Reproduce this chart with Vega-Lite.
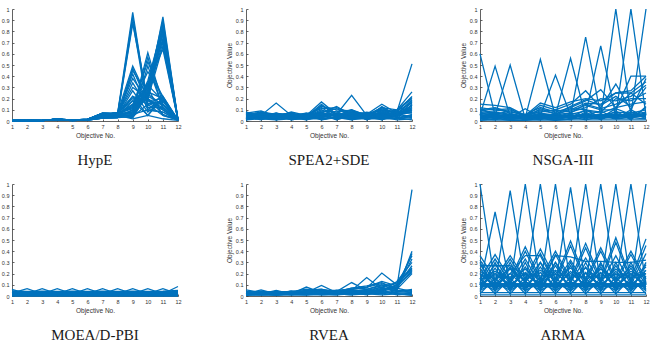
{
  "$schema": "https://vega.github.io/schema/vega-lite/v6.json",
  "background": "white",
  "padding": {"left": 1, "top": 6, "right": 0, "bottom": 0},
  "columns": 3,
  "spacing": {"row": 63, "column": 68},
  "bounds": "flush",
  "config": {
    "view": {"stroke": null},
    "axis": {
      "grid": false,
      "domainColor": "#3a3a3a",
      "domainWidth": 0.8,
      "tickColor": "#3a3a3a",
      "tickWidth": 0.8,
      "tickSize": -2,
      "labelPadding": 5,
      "labelFont": "Liberation Sans",
      "labelFontSize": 5.5,
      "labelColor": "#333333",
      "titleFont": "Liberation Sans",
      "titleFontSize": 6.5,
      "titleFontWeight": "normal",
      "titleColor": "#333333",
      "titlePadding": 3
    },
    "title": {
      "font": "Liberation Serif",
      "fontSize": 15,
      "fontWeight": "normal",
      "color": "#1a1a1a",
      "orient": "bottom",
      "anchor": "middle",
      "offset": 14
    },
    "line": {"color": "#0072BD", "strokeWidth": 1.3}
  },
  "datasets": {
    "hype": [
      {"s":1,"1":0.004,"2":0.005,"3":0.006,"4":0.016,"5":0.006,"6":0.012,"7":0.06,"8":0.07,"9":0.97,"10":0.12,"11":0.15,"12":0.01},
      {"s":2,"1":0.003,"2":0.004,"3":0.005,"4":0.013,"5":0.005,"6":0.01,"7":0.05,"8":0.06,"9":0.93,"10":0.15,"11":0.18,"12":0.005},
      {"s":3,"1":0.005,"2":0.006,"3":0.004,"4":0.018,"5":0.007,"6":0.014,"7":0.07,"8":0.065,"9":0.89,"10":0.1,"11":0.2,"12":0.01},
      {"s":4,"1":0.002,"2":0.003,"3":0.006,"4":0.012,"5":0.004,"6":0.011,"7":0.04,"8":0.05,"9":0.87,"10":0.18,"11":0.12,"12":0.008},
      {"s":5,"1":0.006,"2":0.004,"3":0.003,"4":0.015,"5":0.008,"6":0.016,"7":0.055,"8":0.075,"9":0.49,"10":0.2,"11":0.1,"12":0.01},
      {"s":6,"1":0.004,"2":0.006,"3":0.005,"4":0.01,"5":0.005,"6":0.013,"7":0.03,"8":0.04,"9":0.47,"10":0.15,"11":0.22,"12":0.005},
      {"s":7,"1":0.003,"2":0.005,"3":0.004,"4":0.014,"5":0.006,"6":0.009,"7":0.025,"8":0.03,"9":0.45,"10":0.22,"11":0.15,"12":0.012},
      {"s":8,"1":0.005,"2":0.003,"3":0.006,"4":0.017,"5":0.005,"6":0.015,"7":0.065,"8":0.055,"9":0.42,"10":0.1,"11":0.08,"12":0.006},
      {"s":9,"1":0.004,"2":0.005,"3":0.006,"4":0.016,"5":0.006,"6":0.012,"7":0.06,"8":0.07,"9":0.38,"10":0.18,"11":0.2,"12":0.01},
      {"s":10,"1":0.003,"2":0.004,"3":0.005,"4":0.013,"5":0.005,"6":0.01,"7":0.05,"8":0.06,"9":0.34,"10":0.12,"11":0.12,"12":0.004},
      {"s":11,"1":0.005,"2":0.006,"3":0.004,"4":0.018,"5":0.007,"6":0.014,"7":0.07,"8":0.065,"9":0.3,"10":0.2,"11":0.06,"12":0.01},
      {"s":12,"1":0.002,"2":0.003,"3":0.006,"4":0.012,"5":0.004,"6":0.011,"7":0.04,"8":0.05,"9":0.27,"10":0.08,"11":0.18,"12":0.007},
      {"s":13,"1":0.006,"2":0.004,"3":0.003,"4":0.015,"5":0.008,"6":0.016,"7":0.055,"8":0.075,"9":0.22,"10":0.16,"11":0.1,"12":0.01},
      {"s":14,"1":0.004,"2":0.006,"3":0.005,"4":0.01,"5":0.005,"6":0.013,"7":0.03,"8":0.04,"9":0.18,"10":0.05,"11":0.21,"12":0.005},
      {"s":15,"1":0.003,"2":0.005,"3":0.004,"4":0.014,"5":0.006,"6":0.009,"7":0.025,"8":0.03,"9":0.1,"10":0.61,"11":0.15,"12":0.01},
      {"s":16,"1":0.005,"2":0.003,"3":0.006,"4":0.017,"5":0.005,"6":0.015,"7":0.065,"8":0.055,"9":0.08,"10":0.57,"11":0.1,"12":0.006},
      {"s":17,"1":0.004,"2":0.005,"3":0.006,"4":0.016,"5":0.006,"6":0.012,"7":0.06,"8":0.07,"9":0.12,"10":0.53,"11":0.2,"12":0.01},
      {"s":18,"1":0.003,"2":0.004,"3":0.005,"4":0.013,"5":0.005,"6":0.01,"7":0.05,"8":0.06,"9":0.05,"10":0.49,"11":0.12,"12":0.008},
      {"s":19,"1":0.005,"2":0.006,"3":0.004,"4":0.018,"5":0.007,"6":0.014,"7":0.07,"8":0.065,"9":0.15,"10":0.44,"11":0.22,"12":0.01},
      {"s":20,"1":0.002,"2":0.003,"3":0.006,"4":0.012,"5":0.004,"6":0.011,"7":0.04,"8":0.05,"9":0.07,"10":0.32,"11":0.18,"12":0.005},
      {"s":21,"1":0.006,"2":0.004,"3":0.003,"4":0.015,"5":0.008,"6":0.016,"7":0.055,"8":0.075,"9":0.18,"10":0.29,"11":0.05,"12":0.01},
      {"s":22,"1":0.004,"2":0.006,"3":0.005,"4":0.01,"5":0.005,"6":0.013,"7":0.03,"8":0.04,"9":0.03,"10":0.26,"11":0.2,"12":0.006},
      {"s":23,"1":0.003,"2":0.005,"3":0.004,"4":0.014,"5":0.006,"6":0.009,"7":0.025,"8":0.03,"9":0.1,"10":0.25,"11":0.93,"12":0.01},
      {"s":24,"1":0.005,"2":0.003,"3":0.006,"4":0.017,"5":0.005,"6":0.015,"7":0.065,"8":0.055,"9":0.05,"10":0.3,"11":0.9,"12":0.008},
      {"s":25,"1":0.004,"2":0.005,"3":0.006,"4":0.016,"5":0.006,"6":0.012,"7":0.06,"8":0.07,"9":0.12,"10":0.2,"11":0.87,"12":0.012},
      {"s":26,"1":0.003,"2":0.004,"3":0.005,"4":0.013,"5":0.005,"6":0.01,"7":0.05,"8":0.06,"9":0.08,"10":0.36,"11":0.85,"12":0.006},
      {"s":27,"1":0.005,"2":0.006,"3":0.004,"4":0.018,"5":0.007,"6":0.014,"7":0.07,"8":0.065,"9":0.15,"10":0.22,"11":0.83,"12":0.01},
      {"s":28,"1":0.002,"2":0.003,"3":0.006,"4":0.012,"5":0.004,"6":0.011,"7":0.04,"8":0.05,"9":0.04,"10":0.28,"11":0.81,"12":0.005},
      {"s":29,"1":0.006,"2":0.004,"3":0.003,"4":0.015,"5":0.008,"6":0.016,"7":0.055,"8":0.075,"9":0.2,"10":0.18,"11":0.79,"12":0.01},
      {"s":30,"1":0.004,"2":0.006,"3":0.005,"4":0.01,"5":0.005,"6":0.013,"7":0.03,"8":0.04,"9":0.06,"10":0.33,"11":0.77,"12":0.007},
      {"s":31,"1":0.003,"2":0.005,"3":0.004,"4":0.014,"5":0.006,"6":0.009,"7":0.025,"8":0.03,"9":0.1,"10":0.26,"11":0.74,"12":0.01},
      {"s":32,"1":0.005,"2":0.003,"3":0.006,"4":0.017,"5":0.005,"6":0.015,"7":0.065,"8":0.055,"9":0.14,"10":0.31,"11":0.72,"12":0.006},
      {"s":33,"1":0.004,"2":0.005,"3":0.006,"4":0.016,"5":0.006,"6":0.012,"7":0.06,"8":0.07,"9":0.03,"10":0.24,"11":0.7,"12":0.01},
      {"s":34,"1":0.003,"2":0.004,"3":0.005,"4":0.013,"5":0.005,"6":0.01,"7":0.05,"8":0.06,"9":0.09,"10":0.2,"11":0.67,"12":0.008},
      {"s":35,"1":0.005,"2":0.006,"3":0.004,"4":0.018,"5":0.007,"6":0.014,"7":0.07,"8":0.065,"9":0.11,"10":0.34,"11":0.64,"12":0.01},
      {"s":36,"1":0.002,"2":0.003,"3":0.006,"4":0.012,"5":0.004,"6":0.011,"7":0.04,"8":0.05,"9":0.02,"10":0.05,"11":0.02,"12":0.005},
      {"s":37,"1":0.006,"2":0.004,"3":0.003,"4":0.015,"5":0.008,"6":0.016,"7":0.055,"8":0.075,"9":0.06,"10":0.1,"11":0.08,"12":0.01},
      {"s":38,"1":0.004,"2":0.006,"3":0.005,"4":0.01,"5":0.005,"6":0.013,"7":0.03,"8":0.04,"9":0.22,"10":0.05,"11":0.21,"12":0.006},
      {"s":39,"1":0.003,"2":0.005,"3":0.004,"4":0.014,"5":0.006,"6":0.009,"7":0.025,"8":0.03,"9":0.04,"10":0.15,"11":0.05,"12":0.01},
      {"s":40,"1":0.005,"2":0.003,"3":0.006,"4":0.017,"5":0.005,"6":0.015,"7":0.065,"8":0.055,"9":0.13,"10":0.24,"11":0.14,"12":0.008}
    ],
    "spea": [
      {"s":1,"1":0.08,"2":0.05,"3":0.16,"4":0.05,"5":0.05,"6":0.06,"7":0.05,"8":0.07,"9":0.05,"10":0.06,"11":0.08,"12":0.51},
      {"s":2,"1":0.07,"2":0.09,"3":0.04,"4":0.08,"5":0.05,"6":0.17,"7":0.06,"8":0.05,"9":0.06,"10":0.05,"11":0.07,"12":0.1},
      {"s":3,"1":0.05,"2":0.06,"3":0.05,"4":0.05,"5":0.07,"6":0.07,"7":0.13,"8":0.05,"9":0.08,"10":0.06,"11":0.05,"12":0.08},
      {"s":4,"1":0.06,"2":0.04,"3":0.07,"4":0.05,"5":0.06,"6":0.05,"7":0.06,"8":0.23,"9":0.05,"10":0.07,"11":0.06,"12":0.12},
      {"s":5,"1":0.04,"2":0.07,"3":0.05,"4":0.06,"5":0.05,"6":0.06,"7":0.05,"8":0.06,"9":0.06,"10":0.15,"11":0.07,"12":0.09},
      {"s":6,"1":0.05,"2":0.05,"3":0.06,"4":0.07,"5":0.04,"6":0.15,"7":0.05,"8":0.1,"9":0.05,"10":0.12,"11":0.1,"12":0.26},
      {"s":7,"1":0.07,"2":0.03,"3":0.07,"4":0.04,"5":0.05,"6":0.13,"7":0.1,"8":0.09,"9":0.06,"10":0.1,"11":0.08,"12":0.22},
      {"s":8,"1":0.06,"2":0.08,"3":0.05,"4":0.05,"5":0.06,"6":0.11,"7":0.12,"8":0.07,"9":0.07,"10":0.09,"11":0.09,"12":0.2},
      {"s":9,"1":0.03,"2":0.08,"3":0.02,"4":0.06,"5":0.03,"6":0.09,"7":0.08,"8":0.1,"9":0.04,"10":0.11,"11":0.06,"12":0.18},
      {"s":10,"1":0.02,"2":0.03,"3":0.06,"4":0.03,"5":0.05,"6":0.07,"7":0.04,"8":0.09,"9":0.03,"10":0.08,"11":0.09,"12":0.16},
      {"s":11,"1":0.05,"2":0.02,"3":0.04,"4":0.02,"5":0.04,"6":0.12,"7":0.03,"8":0.08,"9":0.05,"10":0.07,"11":0.05,"12":0.14},
      {"s":12,"1":0.01,"2":0.05,"3":0.03,"4":0.05,"5":0.02,"6":0.04,"7":0.06,"8":0.05,"9":0.02,"10":0.05,"11":0.08,"12":0.13},
      {"s":13,"1":0.04,"2":0.06,"3":0.01,"4":0.04,"5":0.06,"6":0.03,"7":0.07,"8":0.04,"9":0.06,"10":0.04,"11":0.04,"12":0.11},
      {"s":14,"1":0.03,"2":0.04,"3":0.05,"4":0.01,"5":0.03,"6":0.06,"7":0.02,"8":0.06,"9":0.04,"10":0.03,"11":0.07,"12":0.07},
      {"s":15,"1":0.02,"2":0.07,"3":0.03,"4":0.03,"5":0.01,"6":0.05,"7":0.05,"8":0.03,"9":0.05,"10":0.06,"11":0.03,"12":0.05},
      {"s":16,"1":0.06,"2":0.02,"3":0.02,"4":0.07,"5":0.04,"6":0.02,"7":0.04,"8":0.02,"9":0.03,"10":0.02,"11":0.06,"12":0.04},
      {"s":17,"1":0.01,"2":0.04,"3":0.04,"4":0.02,"5":0.02,"6":0.08,"7":0.01,"8":0.07,"9":0.01,"10":0.05,"11":0.02,"12":0.15},
      {"s":18,"1":0.04,"2":0.01,"3":0.06,"4":0.04,"5":0.05,"6":0.01,"7":0.03,"8":0.01,"9":0.07,"10":0.01,"11":0.05,"12":0.03},
      {"s":19,"1":0.02,"2":0.05,"3":0.02,"4":0.06,"5":0.01,"6":0.04,"7":0.06,"8":0.04,"9":0.02,"10":0.04,"11":0.01,"12":0.02},
      {"s":20,"1":0.05,"2":0.03,"3":0.05,"4":0.01,"5":0.03,"6":0.03,"7":0.02,"8":0.03,"9":0.04,"10":0.03,"11":0.04,"12":0.17},
      {"s":21,"1":0.03,"2":0.06,"3":0.03,"4":0.03,"5":0.04,"6":0.1,"7":0.04,"8":0.06,"9":0.03,"10":0.09,"11":0.03,"12":0.01},
      {"s":22,"1":0.01,"2":0.02,"3":0.01,"4":0.02,"5":0.02,"6":0.02,"7":0.03,"8":0.02,"9":0.02,"10":0.02,"11":0.02,"12":0.06},
      {"s":23,"1":0.07,"2":0.04,"3":0.04,"4":0.05,"5":0.03,"6":0.08,"7":0.11,"8":0.05,"9":0.05,"10":0.12,"11":0.06,"12":0.19},
      {"s":24,"1":0.02,"2":0.08,"3":0.06,"4":0.02,"5":0.06,"6":0.05,"7":0.02,"8":0.08,"9":0.01,"10":0.06,"11":0.1,"12":0.21},
      {"s":25,"1":0.06,"2":0.03,"3":0.02,"4":0.06,"5":0.02,"6":0.14,"7":0.05,"8":0.04,"9":0.06,"10":0.1,"11":0.04,"12":0.12},
      {"s":26,"1":0.04,"2":0.05,"3":0.07,"4":0.03,"5":0.05,"6":0.03,"7":0.07,"8":0.02,"9":0.04,"10":0.01,"11":0.07,"12":0.08},
      {"s":27,"1":0.03,"2":0.02,"3":0.03,"4":0.07,"5":0.04,"6":0.06,"7":0.01,"8":0.05,"9":0.02,"10":0.13,"11":0.05,"12":0.1},
      {"s":28,"1":0.05,"2":0.07,"3":0.01,"4":0.04,"5":0.07,"6":0.01,"7":0.04,"8":0.03,"9":0.07,"10":0.05,"11":0.02,"12":0.04},
      {"s":29,"1":0.02,"2":0.06,"3":0.05,"4":0.02,"5":0.03,"6":0.04,"7":0.09,"8":0.01,"9":0.03,"10":0.04,"11":0.08,"12":0.09},
      {"s":30,"1":0.08,"2":0.04,"3":0.03,"4":0.05,"5":0.02,"6":0.07,"7":0.06,"8":0.07,"9":0.05,"10":0.08,"11":0.04,"12":0.14}
    ],
    "nsga": [
      {"s":1,"1":0.6,"2":0.05,"3":0.03,"4":0.02,"5":0.03,"6":0.04,"7":0.03,"8":0.05,"9":0.04,"10":0.05,"11":0.04,"12":0.06},
      {"s":2,"1":0.05,"2":0.49,"3":0.04,"4":0.03,"5":0.05,"6":0.03,"7":0.05,"8":0.04,"9":0.06,"10":0.05,"11":0.04,"12":0.05},
      {"s":3,"1":0.04,"2":0.05,"3":0.5,"4":0.02,"5":0.04,"6":0.05,"7":0.03,"8":0.06,"9":0.04,"10":0.03,"11":0.05,"12":0.04},
      {"s":4,"1":0.03,"2":0.04,"3":0.03,"4":0.11,"5":0.03,"6":0.04,"7":0.05,"8":0.04,"9":0.05,"10":0.04,"11":0.03,"12":0.05},
      {"s":5,"1":0.04,"2":0.03,"3":0.05,"4":0.03,"5":0.55,"6":0.04,"7":0.04,"8":0.05,"9":0.03,"10":0.06,"11":0.05,"12":0.04},
      {"s":6,"1":0.05,"2":0.04,"3":0.04,"4":0.04,"5":0.05,"6":0.41,"7":0.05,"8":0.03,"9":0.05,"10":0.04,"11":0.06,"12":0.05},
      {"s":7,"1":0.03,"2":0.05,"3":0.03,"4":0.05,"5":0.04,"6":0.05,"7":0.56,"8":0.04,"9":0.04,"10":0.05,"11":0.04,"12":0.06},
      {"s":8,"1":0.04,"2":0.03,"3":0.05,"4":0.03,"5":0.04,"6":0.03,"7":0.05,"8":0.75,"9":0.05,"10":0.04,"11":0.05,"12":0.04},
      {"s":9,"1":0.05,"2":0.04,"3":0.03,"4":0.04,"5":0.05,"6":0.04,"7":0.03,"8":0.06,"9":0.67,"10":0.05,"11":0.04,"12":0.05},
      {"s":10,"1":0.03,"2":0.05,"3":0.04,"4":0.03,"5":0.03,"6":0.05,"7":0.04,"8":0.05,"9":0.04,"10":1.0,"11":0.05,"12":0.04},
      {"s":11,"1":0.04,"2":0.03,"3":0.05,"4":0.04,"5":0.04,"6":0.03,"7":0.05,"8":0.04,"9":0.06,"10":0.05,"11":1.0,"12":0.05},
      {"s":12,"1":0.05,"2":0.04,"3":0.03,"4":0.05,"5":0.05,"6":0.04,"7":0.04,"8":0.05,"9":0.05,"10":0.04,"11":0.06,"12":1.0},
      {"s":13,"1":0.15,"2":0.14,"3":0.12,"4":0.05,"5":0.16,"6":0.12,"7":0.17,"8":0.2,"9":0.18,"10":0.25,"11":0.27,"12":0.4},
      {"s":14,"1":0.12,"2":0.1,"3":0.11,"4":0.04,"5":0.14,"6":0.1,"7":0.15,"8":0.27,"9":0.12,"10":0.33,"11":0.1,"12":0.38},
      {"s":15,"1":0.1,"2":0.12,"3":0.08,"4":0.06,"5":0.12,"6":0.08,"7":0.12,"8":0.18,"9":0.28,"10":0.12,"11":0.25,"12":0.35},
      {"s":16,"1":0.08,"2":0.09,"3":0.1,"4":0.05,"5":0.1,"6":0.09,"7":0.1,"8":0.16,"9":0.15,"10":0.25,"11":0.25,"12":0.15},
      {"s":17,"1":0.11,"2":0.06,"3":0.09,"4":0.04,"5":0.09,"6":0.07,"7":0.09,"8":0.14,"9":0.1,"10":0.1,"11":0.4,"12":0.4},
      {"s":18,"1":0.09,"2":0.11,"3":0.07,"4":0.03,"5":0.11,"6":0.06,"7":0.13,"8":0.19,"9":0.14,"10":0.22,"11":0.13,"12":0.3},
      {"s":19,"1":0.07,"2":0.08,"3":0.06,"4":0.05,"5":0.08,"6":0.1,"7":0.08,"8":0.12,"9":0.2,"10":0.18,"11":0.22,"12":0.32},
      {"s":20,"1":0.06,"2":0.07,"3":0.05,"4":0.04,"5":0.07,"6":0.05,"7":0.11,"8":0.1,"9":0.08,"10":0.2,"11":0.18,"12":0.25},
      {"s":21,"1":0.05,"2":0.06,"3":0.04,"4":0.03,"5":0.06,"6":0.06,"7":0.07,"8":0.15,"9":0.11,"10":0.15,"11":0.2,"12":0.2},
      {"s":22,"1":0.04,"2":0.05,"3":0.06,"4":0.04,"5":0.05,"6":0.04,"7":0.06,"8":0.09,"9":0.07,"10":0.12,"11":0.15,"12":0.17},
      {"s":23,"1":0.03,"2":0.04,"3":0.03,"4":0.02,"5":0.04,"6":0.03,"7":0.04,"8":0.06,"9":0.05,"10":0.08,"11":0.07,"12":0.1},
      {"s":24,"1":0.02,"2":0.03,"3":0.02,"4":0.03,"5":0.03,"6":0.02,"7":0.05,"8":0.04,"9":0.03,"10":0.06,"11":0.05,"12":0.07},
      {"s":25,"1":0.01,"2":0.02,"3":0.01,"4":0.01,"5":0.02,"6":0.01,"7":0.02,"8":0.03,"9":0.02,"10":0.04,"11":0.03,"12":0.05},
      {"s":26,"1":0.06,"2":0.02,"3":0.04,"4":0.02,"5":0.06,"6":0.02,"7":0.06,"8":0.02,"9":0.06,"10":0.03,"11":0.08,"12":0.02},
      {"s":27,"1":0.02,"2":0.06,"3":0.02,"4":0.04,"5":0.02,"6":0.06,"7":0.02,"8":0.07,"9":0.02,"10":0.07,"11":0.02,"12":0.12},
      {"s":28,"1":0.08,"2":0.03,"3":0.06,"4":0.01,"5":0.07,"6":0.04,"7":0.07,"8":0.05,"9":0.09,"10":0.02,"11":0.1,"12":0.03},
      {"s":29,"1":0.005,"2":0.01,"3":0.005,"4":0.005,"5":0.01,"6":0.005,"7":0.01,"8":0.01,"9":0.01,"10":0.01,"11":0.01,"12":0.01},
      {"s":30,"1":0.04,"2":0.07,"3":0.01,"4":0.03,"5":0.01,"6":0.07,"7":0.03,"8":0.1,"9":0.03,"10":0.11,"11":0.06,"12":0.08},
      {"s":31,"1":0.03,"2":0.01,"3":0.05,"4":0.01,"5":0.03,"6":0.01,"7":0.04,"8":0.01,"9":0.04,"10":0.02,"11":0.03,"12":0.02},
      {"s":32,"1":0.07,"2":0.05,"3":0.02,"4":0.02,"5":0.05,"6":0.03,"7":0.01,"8":0.08,"9":0.01,"10":0.09,"11":0.01,"12":0.13}
    ],
    "moead": [
      {"s":1,"1":0.06,"2":0.02,"3":0.065,"4":0.02,"5":0.065,"6":0.02,"7":0.065,"8":0.02,"9":0.065,"10":0.02,"11":0.065,"12":0.02},
      {"s":2,"1":0.025,"2":0.065,"3":0.02,"4":0.065,"5":0.02,"6":0.065,"7":0.02,"8":0.065,"9":0.02,"10":0.065,"11":0.02,"12":0.085},
      {"s":3,"1":0.045,"2":0.04,"3":0.043,"4":0.04,"5":0.043,"6":0.04,"7":0.043,"8":0.04,"9":0.043,"10":0.04,"11":0.043,"12":0.05},
      {"s":4,"1":0.04,"2":0.035,"3":0.038,"4":0.035,"5":0.038,"6":0.035,"7":0.038,"8":0.035,"9":0.038,"10":0.035,"11":0.038,"12":0.04},
      {"s":5,"1":0.035,"2":0.03,"3":0.034,"4":0.03,"5":0.034,"6":0.03,"7":0.034,"8":0.03,"9":0.034,"10":0.03,"11":0.034,"12":0.036},
      {"s":6,"1":0.03,"2":0.026,"3":0.03,"4":0.026,"5":0.03,"6":0.026,"7":0.03,"8":0.026,"9":0.03,"10":0.026,"11":0.03,"12":0.03},
      {"s":7,"1":0.01,"2":0.03,"3":0.01,"4":0.03,"5":0.01,"6":0.03,"7":0.01,"8":0.03,"9":0.01,"10":0.03,"11":0.01,"12":0.03},
      {"s":8,"1":0.03,"2":0.01,"3":0.03,"4":0.01,"5":0.03,"6":0.01,"7":0.03,"8":0.01,"9":0.03,"10":0.01,"11":0.03,"12":0.01},
      {"s":9,"1":0.016,"2":0.014,"3":0.016,"4":0.014,"5":0.016,"6":0.014,"7":0.016,"8":0.014,"9":0.016,"10":0.014,"11":0.016,"12":0.015},
      {"s":10,"1":0.008,"2":0.008,"3":0.008,"4":0.008,"5":0.008,"6":0.008,"7":0.008,"8":0.008,"9":0.008,"10":0.008,"11":0.008,"12":0.008},
      {"s":11,"1":0.003,"2":0.004,"3":0.003,"4":0.004,"5":0.003,"6":0.004,"7":0.003,"8":0.004,"9":0.003,"10":0.004,"11":0.003,"12":0.004},
      {"s":12,"1":0.024,"2":0.012,"3":0.024,"4":0.012,"5":0.024,"6":0.012,"7":0.024,"8":0.012,"9":0.024,"10":0.012,"11":0.024,"12":0.012},
      {"s":13,"1":0.012,"2":0.024,"3":0.012,"4":0.024,"5":0.012,"6":0.024,"7":0.012,"8":0.024,"9":0.012,"10":0.024,"11":0.012,"12":0.024},
      {"s":14,"1":0.0,"2":0.0,"3":0.0,"4":0.0,"5":0.0,"6":0.0,"7":0.0,"8":0.0,"9":0.0,"10":0.0,"11":0.0,"12":0.0}
    ],
    "rvea": [
      {"s":1,"1":0.055,"2":0.03,"3":0.03,"4":0.02,"5":0.03,"6":0.03,"7":0.02,"8":0.03,"9":0.05,"10":0.04,"11":0.08,"12":0.95},
      {"s":2,"1":0.02,"2":0.055,"3":0.02,"4":0.03,"5":0.02,"6":0.02,"7":0.03,"8":0.02,"9":0.03,"10":0.02,"11":0.05,"12":0.4},
      {"s":3,"1":0.03,"2":0.02,"3":0.05,"4":0.02,"5":0.03,"6":0.03,"7":0.02,"8":0.03,"9":0.02,"10":0.03,"11":0.06,"12":0.38},
      {"s":4,"1":0.02,"2":0.03,"3":0.02,"4":0.045,"5":0.02,"6":0.02,"7":0.03,"8":0.02,"9":0.04,"10":0.05,"11":0.1,"12":0.36},
      {"s":5,"1":0.03,"2":0.02,"3":0.03,"4":0.02,"5":0.08,"6":0.03,"7":0.02,"8":0.04,"9":0.03,"10":0.06,"11":0.07,"12":0.33},
      {"s":6,"1":0.02,"2":0.03,"3":0.02,"4":0.03,"5":0.03,"6":0.095,"7":0.03,"8":0.03,"9":0.05,"10":0.04,"11":0.13,"12":0.3},
      {"s":7,"1":0.04,"2":0.02,"3":0.03,"4":0.02,"5":0.02,"6":0.03,"7":0.05,"8":0.03,"9":0.04,"10":0.06,"11":0.09,"12":0.27},
      {"s":8,"1":0.03,"2":0.04,"3":0.03,"4":0.03,"5":0.04,"6":0.04,"7":0.04,"8":0.12,"9":0.05,"10":0.08,"11":0.12,"12":0.25},
      {"s":9,"1":0.02,"2":0.03,"3":0.04,"4":0.03,"5":0.03,"6":0.05,"7":0.04,"8":0.05,"9":0.165,"10":0.06,"11":0.08,"12":0.23},
      {"s":10,"1":0.03,"2":0.02,"3":0.02,"4":0.03,"5":0.05,"6":0.06,"7":0.03,"8":0.06,"9":0.07,"10":0.205,"11":0.1,"12":0.21},
      {"s":11,"1":0.04,"2":0.03,"3":0.03,"4":0.04,"5":0.06,"6":0.04,"7":0.04,"8":0.07,"9":0.09,"10":0.12,"11":0.06,"12":0.2},
      {"s":12,"1":0.01,"2":0.02,"3":0.01,"4":0.02,"5":0.02,"6":0.03,"7":0.02,"8":0.04,"9":0.06,"10":0.1,"11":0.05,"12":0.05},
      {"s":13,"1":0.02,"2":0.01,"3":0.02,"4":0.01,"5":0.01,"6":0.02,"7":0.03,"8":0.05,"9":0.04,"10":0.08,"11":0.04,"12":0.03},
      {"s":14,"1":0.03,"2":0.03,"3":0.04,"4":0.03,"5":0.04,"6":0.05,"7":0.05,"8":0.06,"9":0.08,"10":0.11,"11":0.07,"12":0.04},
      {"s":15,"1":0.01,"2":0.03,"3":0.02,"4":0.03,"5":0.03,"6":0.04,"7":0.03,"8":0.03,"9":0.03,"10":0.03,"11":0.03,"12":0.02},
      {"s":16,"1":0.02,"2":0.02,"3":0.03,"4":0.01,"5":0.03,"6":0.01,"7":0.01,"8":0.02,"9":0.02,"10":0.05,"11":0.02,"12":0.01},
      {"s":17,"1":0.03,"2":0.04,"3":0.02,"4":0.02,"5":0.01,"6":0.03,"7":0.02,"8":0.01,"9":0.05,"10":0.02,"11":0.04,"12":0.06},
      {"s":18,"1":0.01,"2":0.01,"3":0.01,"4":0.02,"5":0.02,"6":0.02,"7":0.01,"8":0.03,"9":0.01,"10":0.04,"11":0.01,"12":0.02},
      {"s":19,"1":0.04,"2":0.02,"3":0.04,"4":0.03,"5":0.05,"6":0.06,"7":0.04,"8":0.07,"9":0.08,"10":0.13,"11":0.09,"12":0.22},
      {"s":20,"1":0.02,"2":0.04,"3":0.03,"4":0.02,"5":0.03,"6":0.04,"7":0.03,"8":0.04,"9":0.06,"10":0.09,"11":0.11,"12":0.24},
      {"s":21,"1":0.005,"2":0.01,"3":0.005,"4":0.01,"5":0.01,"6":0.01,"7":0.02,"8":0.01,"9":0.02,"10":0.01,"11":0.02,"12":0.005},
      {"s":22,"1":0.03,"2":0.02,"3":0.03,"4":0.04,"5":0.04,"6":0.03,"7":0.05,"8":0.05,"9":0.03,"10":0.07,"11":0.05,"12":0.035}
    ],
    "arma": [
      {"s":1,"1":1.0,"2":0.1,"3":0.08,"4":0.12,"5":0.1,"6":0.08,"7":0.1,"8":0.12,"9":0.08,"10":0.1,"11":0.12,"12":0.1},
      {"s":2,"1":0.1,"2":0.75,"3":0.1,"4":0.08,"5":0.12,"6":0.1,"7":0.08,"8":0.1,"9":0.12,"10":0.08,"11":0.1,"12":0.12},
      {"s":3,"1":0.08,"2":0.1,"3":0.94,"4":0.1,"5":0.08,"6":0.12,"7":0.1,"8":0.08,"9":0.1,"10":0.12,"11":0.08,"12":0.1},
      {"s":4,"1":0.12,"2":0.08,"3":0.1,"4":1.0,"5":0.1,"6":0.08,"7":0.12,"8":0.1,"9":0.08,"10":0.1,"11":0.12,"12":0.08},
      {"s":5,"1":0.1,"2":0.12,"3":0.08,"4":0.1,"5":1.0,"6":0.1,"7":0.08,"8":0.12,"9":0.1,"10":0.08,"11":0.1,"12":0.12},
      {"s":6,"1":0.08,"2":0.1,"3":0.12,"4":0.08,"5":0.1,"6":1.0,"7":0.1,"8":0.08,"9":0.12,"10":0.1,"11":0.08,"12":0.1},
      {"s":7,"1":0.1,"2":0.08,"3":0.1,"4":0.12,"5":0.08,"6":0.1,"7":0.97,"8":0.1,"9":0.08,"10":0.12,"11":0.1,"12":0.08},
      {"s":8,"1":0.12,"2":0.1,"3":0.08,"4":0.1,"5":0.12,"6":0.08,"7":0.1,"8":1.0,"9":0.1,"10":0.08,"11":0.12,"12":0.1},
      {"s":9,"1":0.1,"2":0.12,"3":0.1,"4":0.08,"5":0.1,"6":0.12,"7":0.08,"8":0.1,"9":1.0,"10":0.1,"11":0.08,"12":0.12},
      {"s":10,"1":0.08,"2":0.1,"3":0.12,"4":0.1,"5":0.08,"6":0.1,"7":0.12,"8":0.08,"9":0.1,"10":1.0,"11":0.1,"12":0.08},
      {"s":11,"1":0.1,"2":0.08,"3":0.1,"4":0.12,"5":0.1,"6":0.08,"7":0.1,"8":0.12,"9":0.08,"10":0.1,"11":1.0,"12":0.1},
      {"s":12,"1":0.12,"2":0.1,"3":0.08,"4":0.1,"5":0.12,"6":0.1,"7":0.08,"8":0.1,"9":0.12,"10":0.08,"11":0.1,"12":1.0},
      {"s":13,"1":0.36,"2":0.15,"3":0.36,"4":0.15,"5":0.42,"6":0.15,"7":0.49,"8":0.15,"9":0.43,"10":0.15,"11":0.4,"12":0.15},
      {"s":14,"1":0.15,"2":0.37,"3":0.15,"4":0.44,"5":0.15,"6":0.4,"7":0.15,"8":0.47,"9":0.15,"10":0.52,"11":0.15,"12":0.51},
      {"s":15,"1":0.32,"2":0.12,"3":0.33,"4":0.12,"5":0.38,"6":0.12,"7":0.45,"8":0.12,"9":0.4,"10":0.12,"11":0.37,"12":0.12},
      {"s":16,"1":0.12,"2":0.33,"3":0.12,"4":0.4,"5":0.12,"6":0.37,"7":0.12,"8":0.43,"9":0.12,"10":0.48,"11":0.12,"12":0.45},
      {"s":17,"1":0.27,"2":0.27,"3":0.27,"4":0.18,"5":0.12,"6":0.2,"7":0.1,"8":0.2,"9":0.1,"10":0.2,"11":0.1,"12":0.2},
      {"s":18,"1":0.2,"2":0.1,"3":0.2,"4":0.36,"5":0.36,"6":0.1,"7":0.2,"8":0.1,"9":0.2,"10":0.1,"11":0.2,"12":0.1},
      {"s":19,"1":0.1,"2":0.2,"3":0.1,"4":0.2,"5":0.1,"6":0.36,"7":0.35,"8":0.31,"9":0.31,"10":0.3,"11":0.3,"12":0.32},
      {"s":20,"1":0.3,"2":0.04,"3":0.3,"4":0.04,"5":0.3,"6":0.04,"7":0.3,"8":0.04,"9":0.3,"10":0.04,"11":0.3,"12":0.04},
      {"s":21,"1":0.04,"2":0.3,"3":0.04,"4":0.3,"5":0.04,"6":0.3,"7":0.04,"8":0.3,"9":0.04,"10":0.3,"11":0.04,"12":0.3},
      {"s":22,"1":0.25,"2":0.06,"3":0.25,"4":0.06,"5":0.26,"6":0.06,"7":0.27,"8":0.06,"9":0.26,"10":0.06,"11":0.25,"12":0.06},
      {"s":23,"1":0.06,"2":0.25,"3":0.06,"4":0.26,"5":0.06,"6":0.27,"7":0.06,"8":0.26,"9":0.06,"10":0.27,"11":0.06,"12":0.28},
      {"s":24,"1":0.2,"2":0.08,"3":0.2,"4":0.08,"5":0.21,"6":0.08,"7":0.22,"8":0.08,"9":0.21,"10":0.08,"11":0.2,"12":0.08},
      {"s":25,"1":0.08,"2":0.2,"3":0.08,"4":0.21,"5":0.08,"6":0.22,"7":0.08,"8":0.21,"9":0.08,"10":0.22,"11":0.08,"12":0.23},
      {"s":26,"1":0.16,"2":0.02,"3":0.16,"4":0.02,"5":0.17,"6":0.02,"7":0.17,"8":0.02,"9":0.16,"10":0.02,"11":0.16,"12":0.02},
      {"s":27,"1":0.02,"2":0.16,"3":0.02,"4":0.17,"5":0.02,"6":0.17,"7":0.02,"8":0.16,"9":0.02,"10":0.17,"11":0.02,"12":0.18},
      {"s":28,"1":0.12,"2":0.1,"3":0.12,"4":0.1,"5":0.12,"6":0.1,"7":0.12,"8":0.1,"9":0.12,"10":0.1,"11":0.12,"12":0.1},
      {"s":29,"1":0.03,"2":0.03,"3":0.03,"4":0.03,"5":0.03,"6":0.03,"7":0.03,"8":0.03,"9":0.03,"10":0.03,"11":0.03,"12":0.03},
      {"s":30,"1":0.01,"2":0.01,"3":0.01,"4":0.01,"5":0.01,"6":0.01,"7":0.01,"8":0.01,"9":0.01,"10":0.01,"11":0.01,"12":0.01},
      {"s":31,"1":0.22,"2":0.15,"3":0.24,"4":0.14,"5":0.23,"6":0.15,"7":0.25,"8":0.14,"9":0.24,"10":0.15,"11":0.22,"12":0.16},
      {"s":32,"1":0.14,"2":0.22,"3":0.15,"4":0.24,"5":0.14,"6":0.23,"7":0.15,"8":0.25,"9":0.14,"10":0.24,"11":0.15,"12":0.26},
      {"s":33,"1":0.28,"2":0.1,"3":0.26,"4":0.12,"5":0.3,"6":0.11,"7":0.32,"8":0.1,"9":0.28,"10":0.12,"11":0.27,"12":0.11},
      {"s":34,"1":0.1,"2":0.28,"3":0.11,"4":0.33,"5":0.1,"6":0.3,"7":0.12,"8":0.34,"9":0.11,"10":0.36,"11":0.1,"12":0.38},
      {"s":35,"1":0.05,"2":0.12,"3":0.05,"4":0.13,"5":0.05,"6":0.12,"7":0.05,"8":0.13,"9":0.05,"10":0.12,"11":0.05,"12":0.14},
      {"s":36,"1":0.12,"2":0.05,"3":0.13,"4":0.05,"5":0.12,"6":0.05,"7":0.13,"8":0.05,"9":0.12,"10":0.05,"11":0.13,"12":0.05},
      {"s":37,"1":0.18,"2":0.18,"3":0.17,"4":0.19,"5":0.18,"6":0.19,"7":0.18,"8":0.17,"9":0.18,"10":0.19,"11":0.18,"12":0.2}
    ]
  },
  "concat": [
    {
      "data": {"name": "hype"},
      "title": "HypE",
      "width": 166,
      "height": 112,
      "transform": [{"fold": ["1","2","3","4","5","6","7","8","9","10","11","12"], "as": ["objective", "value"]}],
      "mark": {"type": "line"},
      "encoding": {
        "x": {"field": "objective", "type": "ordinal", "scale": {"type": "point", "padding": 0, "domain": ["1","2","3","4","5","6","7","8","9","10","11","12"]}, "axis": {"title": "Objective No.", "labelAngle": 0}},
        "y": {"field": "value", "type": "quantitative", "scale": {"domain": [0, 1]}, "axis": {"title": null, "values": [0,0.1,0.2,0.3,0.4,0.5,0.6,0.7,0.8,0.9,1], "format": "~g"}},
        "detail": {"field": "s"}
      }
    },
    {
      "data": {"name": "spea"},
      "title": "SPEA2+SDE",
      "width": 166,
      "height": 112,
      "transform": [{"fold": ["1","2","3","4","5","6","7","8","9","10","11","12"], "as": ["objective", "value"]}],
      "mark": {"type": "line"},
      "encoding": {
        "x": {"field": "objective", "type": "ordinal", "scale": {"type": "point", "padding": 0, "domain": ["1","2","3","4","5","6","7","8","9","10","11","12"]}, "axis": {"title": "Objective No.", "labelAngle": 0}},
        "y": {"field": "value", "type": "quantitative", "scale": {"domain": [0, 1]}, "axis": {"title": "Objective Value", "values": [0,0.1,0.2,0.3,0.4,0.5,0.6,0.7,0.8,0.9,1], "format": "~g"}},
        "detail": {"field": "s"}
      }
    },
    {
      "data": {"name": "nsga"},
      "title": "NSGA-III",
      "width": 166,
      "height": 112,
      "transform": [{"fold": ["1","2","3","4","5","6","7","8","9","10","11","12"], "as": ["objective", "value"]}],
      "mark": {"type": "line"},
      "encoding": {
        "x": {"field": "objective", "type": "ordinal", "scale": {"type": "point", "padding": 0, "domain": ["1","2","3","4","5","6","7","8","9","10","11","12"]}, "axis": {"title": "Objective No.", "labelAngle": 0}},
        "y": {"field": "value", "type": "quantitative", "scale": {"domain": [0, 1]}, "axis": {"title": "Objective Value", "values": [0,0.1,0.2,0.3,0.4,0.5,0.6,0.7,0.8,0.9,1], "format": "~g"}},
        "detail": {"field": "s"}
      }
    },
    {
      "data": {"name": "moead"},
      "title": "MOEA/D-PBI",
      "width": 166,
      "height": 112,
      "transform": [{"fold": ["1","2","3","4","5","6","7","8","9","10","11","12"], "as": ["objective", "value"]}],
      "mark": {"type": "line"},
      "encoding": {
        "x": {"field": "objective", "type": "ordinal", "scale": {"type": "point", "padding": 0, "domain": ["1","2","3","4","5","6","7","8","9","10","11","12"]}, "axis": {"title": "Objective No.", "labelAngle": 0}},
        "y": {"field": "value", "type": "quantitative", "scale": {"domain": [0, 1]}, "axis": {"title": null, "values": [0,0.1,0.2,0.3,0.4,0.5,0.6,0.7,0.8,0.9,1], "format": "~g"}},
        "detail": {"field": "s"}
      }
    },
    {
      "data": {"name": "rvea"},
      "title": "RVEA",
      "width": 166,
      "height": 112,
      "transform": [{"fold": ["1","2","3","4","5","6","7","8","9","10","11","12"], "as": ["objective", "value"]}],
      "mark": {"type": "line"},
      "encoding": {
        "x": {"field": "objective", "type": "ordinal", "scale": {"type": "point", "padding": 0, "domain": ["1","2","3","4","5","6","7","8","9","10","11","12"]}, "axis": {"title": "Objective No.", "labelAngle": 0}},
        "y": {"field": "value", "type": "quantitative", "scale": {"domain": [0, 1]}, "axis": {"title": "Objective Value", "values": [0,0.1,0.2,0.3,0.4,0.5,0.6,0.7,0.8,0.9,1], "format": "~g"}},
        "detail": {"field": "s"}
      }
    },
    {
      "data": {"name": "arma"},
      "title": "ARMA",
      "width": 166,
      "height": 112,
      "transform": [{"fold": ["1","2","3","4","5","6","7","8","9","10","11","12"], "as": ["objective", "value"]}],
      "mark": {"type": "line"},
      "encoding": {
        "x": {"field": "objective", "type": "ordinal", "scale": {"type": "point", "padding": 0, "domain": ["1","2","3","4","5","6","7","8","9","10","11","12"]}, "axis": {"title": "Objective No.", "labelAngle": 0}},
        "y": {"field": "value", "type": "quantitative", "scale": {"domain": [0, 1]}, "axis": {"title": "Objective Value", "values": [0,0.1,0.2,0.3,0.4,0.5,0.6,0.7,0.8,0.9,1], "format": "~g"}},
        "detail": {"field": "s"}
      }
    }
  ]
}
